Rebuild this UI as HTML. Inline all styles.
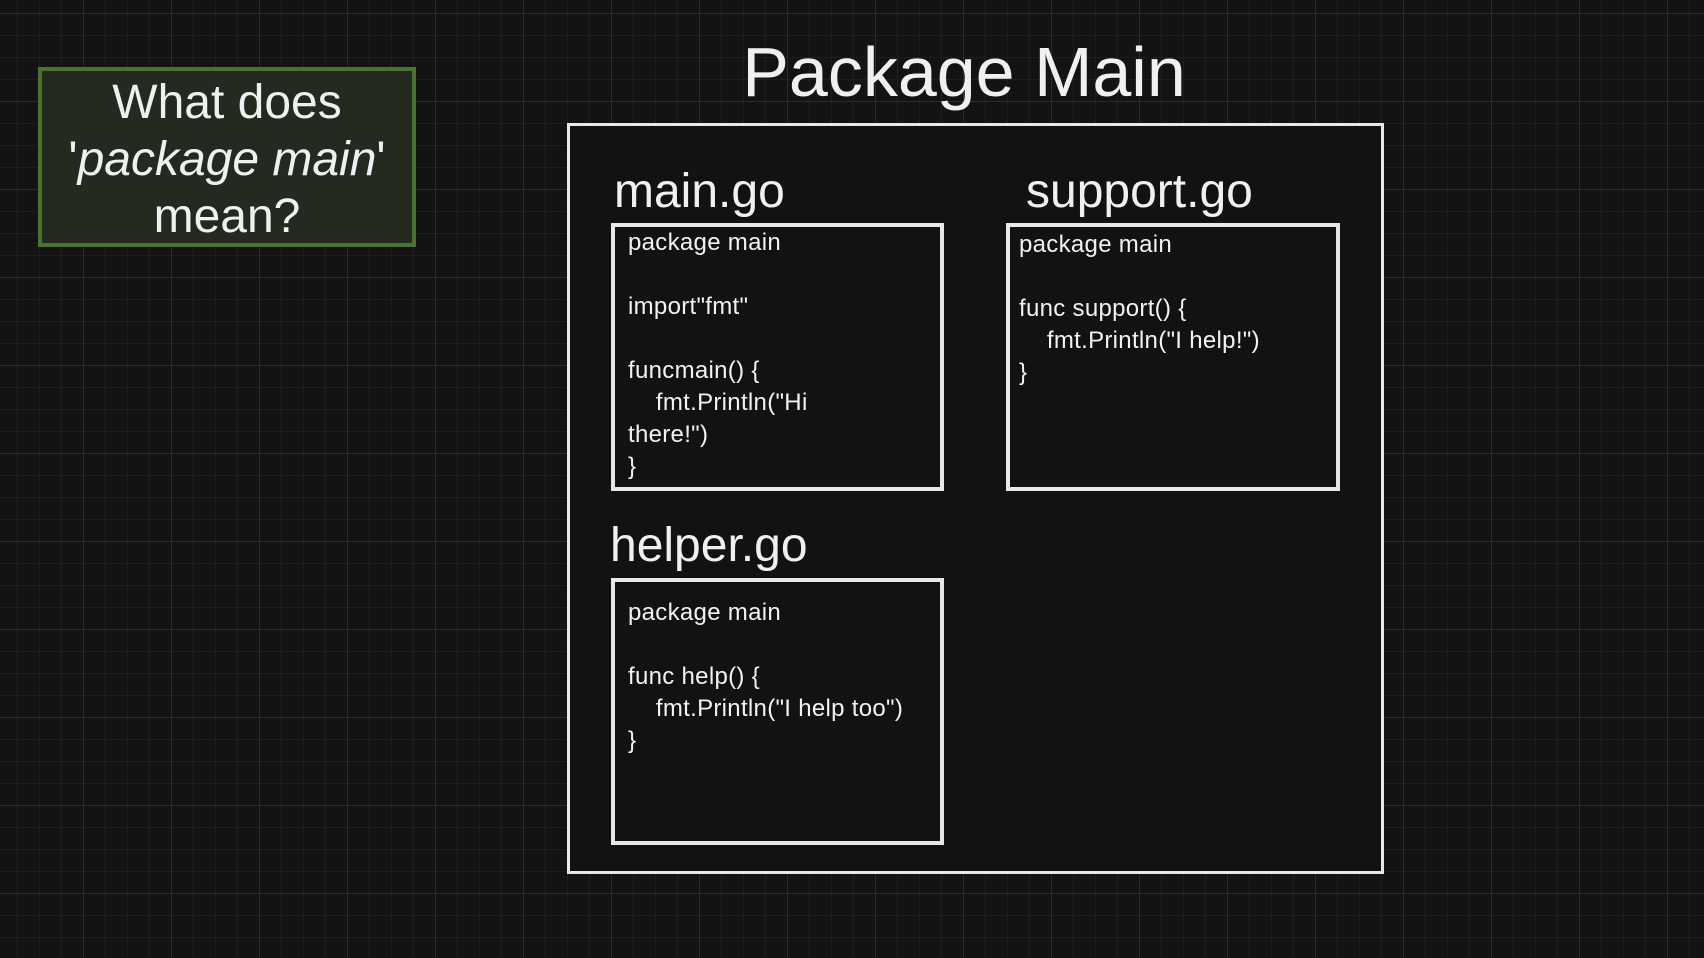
<!DOCTYPE html>
<html><head><meta charset="utf-8"><style>
html,body{margin:0;padding:0}
body{width:1704px;height:958px;position:relative;overflow:hidden;background-color:#131313;
background-image:
linear-gradient(to right,#2c2c2c 1px,transparent 1px),
linear-gradient(to bottom,#2c2c2c 1px,transparent 1px),
linear-gradient(to right,#1e1e1e 1px,transparent 1px),
linear-gradient(to bottom,#1e1e1e 1px,transparent 1px);
background-size:88px 88px,88px 88px,22px 22px,22px 22px;
background-position:83px 13px,83px 13px,17px 13px,17px 13px;
font-family:"Liberation Sans",Arial,sans-serif;color:#f0f0f0}
.a{position:absolute}
.box{position:absolute;box-sizing:border-box;border:4px solid #e8e8e8;background:#121212}
.code{position:absolute;font-size:24px;line-height:32px;white-space:pre;color:#f2f2f2;letter-spacing:0.3px}
.lbl{position:absolute;font-size:48px;line-height:48px;white-space:nowrap}
</style></head><body>
<div class="a" style="left:38px;top:67px;width:378px;height:180px;box-sizing:border-box;border:4px solid #4a7330;background:#232b20;text-align:center;font-size:48px;line-height:57px;padding-top:3px">What does<br>'<i>package main</i>'<br>mean?</div>
<div class="a" style="left:664px;top:32px;width:600px;text-align:center;font-size:70px;line-height:80px">Package Main</div>
<div class="box" style="left:567px;top:123px;width:817px;height:751px;border-width:3px"></div>
<div class="lbl" style="left:614px;top:168px">main.go</div>
<div class="box" style="left:611px;top:223px;width:333px;height:268px"></div>
<div class="code" style="left:628px;top:227px">package main

import"fmt"

funcmain() {
    fmt.Println("Hi
there!")
}</div>
<div class="lbl" style="left:1026px;top:168px">support.go</div>
<div class="box" style="left:1006px;top:223px;width:334px;height:268px"></div>
<div class="code" style="left:1019px;top:229px">package main

func support() {
    fmt.Println("I help!")
}</div>
<div class="lbl" style="left:610px;top:522px">helper.go</div>
<div class="box" style="left:611px;top:578px;width:333px;height:267px"></div>
<div class="code" style="left:628px;top:597px">package main

func help() {
    fmt.Println("I help too")
}</div>
</body></html>
